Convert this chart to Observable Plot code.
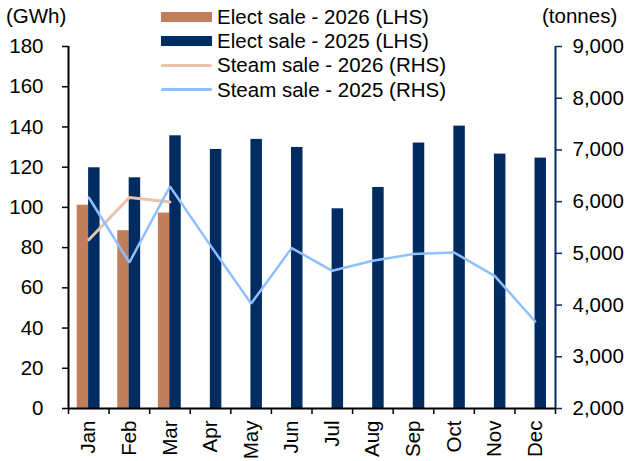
<!DOCTYPE html>
<html>
<head>
<meta charset="utf-8">
<script src="https://cdn.jsdelivr.net/npm/d3@7"></script>
<script src="https://cdn.jsdelivr.net/npm/@observablehq/plot@0.6"></script>
<style>
  body { margin: 0; background: #fff; font-family: "Liberation Sans", Arial, sans-serif; }
  #wrap { position: relative; width: 629px; height: 461px; }
  #wrap svg { position: absolute; left: 0; top: 0; }
  .unit { position: absolute; top: 4px; font-size: 20.5px; line-height: 24px; color: #000; }
  #legend { position: absolute; left: 161px; top: 4.5px; font-size: 20.5px; color: #000; }
  .row { display: flex; align-items: center; height: 24.3px; white-space: nowrap; }
  .sw { display: inline-block; width: 51px; margin-right: 5px; }
</style>
</head>
<body>
<div id="wrap"></div>
<script>
// ---- data ----
const months = ["Jan","Feb","Mar","Apr","May","Jun","Jul","Aug","Sep","Oct","Nov","Dec"];
const electSale2026 = [101.1, 88.4, 97.2];
const electSale2025 = [119.7, 114.7, 135.6, 128.8, 133.8, 129.8, 99.3, 109.9, 132.0, 140.4, 126.5, 124.5];
const steamSale2026 = [5262, 6080, 5991];
const steamSale2025 = [6080, 4823, 6293, 5150, 4030, 5102, 4663, 4856, 4986, 5017, 4566, 3683];
const leftTicks = [0, 20, 40, 60, 80, 100, 120, 140, 160, 180];
const rightTicks = [2000, 3000, 4000, 5000, 6000, 7000, 8000, 9000];
const seriesNames = ["Elect sale - 2026 (LHS)", "Elect sale - 2025 (LHS)", "Steam sale - 2026 (RHS)", "Steam sale - 2025 (RHS)"];
const seriesKinds = ["bar", "bar", "line", "line"];
const seriesColors = ["#C07E5A", "#002C61", "#E8C2AA", "#8EC0FF"];
const leftUnit = "(GWh)";
const rightUnit = "(tonnes)";

// ---- helpers ----
const leftMax = 180, rightMin = 2000, rightMax = 9000;
const toLeft = v => (v - rightMin) / (rightMax - rightMin) * leftMax;
const fromLeft = v => v / leftMax * (rightMax - rightMin) + rightMin;
const e26 = electSale2026.map((v, i) => ({i, v}));
const e25 = electSale2025.map((v, i) => ({i, v}));
const s26 = steamSale2026.map((v, i) => ({i, v}));
const s25 = steamSale2025.map((v, i) => ({i, v}));
const boundaries = d3.range(months.length + 1).map(k => k - 0.5);
const navy = seriesColors[1];

const chart = Plot.plot({
  width: 629,
  height: 461,
  marginLeft: 68,
  marginRight: 74,
  marginTop: 46,
  marginBottom: 53,
  style: { fontFamily: "'Liberation Sans', Arial, sans-serif", fontSize: "20.5px", color: "#000", background: "transparent" },
  x: { type: "linear", domain: [-0.5, months.length - 0.5] },
  y: { domain: [0, leftMax] },
  marks: [
    Plot.rectY(e26, { x1: d => d.i - 0.5, x2: d => d.i + 0.5, y: "v", fill: seriesColors[0], insetLeft: 8.7, insetRight: 20.3 }),
    Plot.rectY(e25, { x1: d => d.i - 0.5, x2: d => d.i + 0.5, y: "v", fill: seriesColors[1], insetLeft: 20.1, insetRight: 9.0 }),
    Plot.line(s26, { x: "i", y: d => toLeft(d.v), stroke: seriesColors[2], strokeWidth: 3, strokeLinejoin: "miter" }),
    Plot.line(s25, { x: "i", y: d => toLeft(d.v), stroke: seriesColors[3], strokeWidth: 2.5, strokeLinejoin: "miter" }),
    // axes
    Plot.axisX({ ticks: boundaries, tickSize: 6, tickFormat: () => "", label: null, stroke: "#000", strokeWidth: 1.5 }),
    Plot.axisX({ ticks: d3.range(months.length), tickSize: 0, tickPadding: 12, tickRotate: -90, label: null, tickFormat: i => months[i], fontSize: 20.5 }),
    Plot.axisY({ anchor: "left", ticks: leftTicks, tickSize: 6, tickPadding: 19, label: null, stroke: "#000", strokeWidth: 1.5, fontSize: 20.5 }),
    Plot.axisY({ anchor: "right", ticks: rightTicks.map(toLeft), tickSize: 6, tickPadding: 11, label: null, stroke: navy, strokeWidth: 1.5,
                 tickFormat: d => d3.format(",")(Math.round(fromLeft(d))), fill: "#000", fontSize: 20.5 }),
    Plot.ruleX([-0.5], { stroke: "#000", strokeWidth: 2 }),
    Plot.ruleX([months.length - 0.5], { stroke: navy, strokeWidth: 2 }),
    Plot.ruleY([0], { stroke: "#000", strokeWidth: 2 })
  ]
});

const wrap = document.getElementById("wrap");
wrap.appendChild(chart);

// unit labels
const lu = document.createElement("div");
lu.className = "unit"; lu.style.left = "6px"; lu.textContent = leftUnit;
wrap.appendChild(lu);
const ru = document.createElement("div");
ru.className = "unit"; ru.style.left = "542px"; ru.textContent = rightUnit;
wrap.appendChild(ru);

// legend
const legend = document.createElement("div");
legend.id = "legend";
seriesNames.forEach((name, k) => {
  const row = document.createElement("div");
  row.className = "row";
  const sw = document.createElement("span");
  sw.className = "sw";
  sw.style.background = seriesColors[k];
  if (seriesKinds[k] === "bar") { sw.style.height = "10px"; }
  else { sw.style.height = "3px"; sw.style.borderRadius = "2px"; }
  row.appendChild(sw);
  row.appendChild(document.createTextNode(name));
  legend.appendChild(row);
});
wrap.appendChild(legend);
</script>
</body>
</html>
